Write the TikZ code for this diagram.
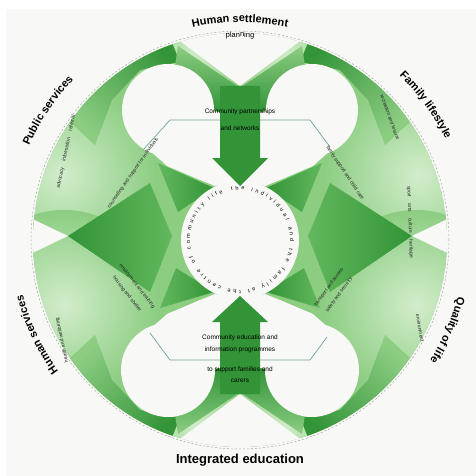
\documentclass[tikz,border=0pt]{standalone}
\usepackage{fontspec}
\setmainfont{Liberation Sans}
\usetikzlibrary{decorations.text}
\definecolor{bgc}{RGB}{248,248,246}
\definecolor{gD}{RGB}{50,148,55}
\definecolor{gM}{RGB}{98,184,92}
\definecolor{gB}{RGB}{140,205,130}
\definecolor{gL}{RGB}{210,237,203}
\definecolor{hexc}{RGB}{110,165,155}
\begin{document}
\begin{tikzpicture}[x=1pt,y=1pt,
  bt/.style={font=\fontsize{5}{5.8}\selectfont, align=center, inner sep=0pt, text=black!85},
  mt/.style={font=\fontsize{6.5}{7}\selectfont, inner sep=0pt, text=black},
  hexline/.style={draw=hexc, line width=0.7pt},
  arrowfill/.style={fill=gD},
  cut/.style={fill=bgc}
]
\fill[bgc] (0,0) rectangle (476,-476);
\fill[white] (0,0) rectangle (476,-9);
\fill[white] (0,0) rectangle (6,-476);
\useasboundingbox (0,0) rectangle (476,-476);

\begin{scope}
 \clip (240,-240) circle (207);
 \fill[gB] (240,-240) circle (207);
 % pale regions
 \foreach \a/\b/\r in {62/-175/95, 64/-305/95, 418/-175/95, 416/-305/95, 192/-58/60, 288/-58/60, 192/-422/60, 288/-422/60}
   \shade[inner color=gL, outer color=gB] (\a,\b) circle (\r);
 % dark corner arrowheads
 \shade[top color=gD, bottom color=gB, shading angle=-45] (70,-122) -- (137,-34) -- (170,-38) -- (180,-62) -- (140,-70) -- (112,-100) -- (95,-145) -- cycle;
 \shade[top color=gD, bottom color=gB, shading angle=45] (410,-122) -- (343,-34) -- (310,-38) -- (300,-62) -- (340,-70) -- (368,-100) -- (385,-145) -- cycle;
 \shade[top color=gD, bottom color=gB, shading angle=225] (70,-358) -- (137,-446) -- (170,-442) -- (180,-418) -- (140,-410) -- (112,-380) -- (95,-335) -- cycle;
 \shade[top color=gD, bottom color=gB, shading angle=135] (410,-358) -- (343,-446) -- (310,-442) -- (300,-418) -- (340,-410) -- (368,-380) -- (385,-335) -- cycle;
 % top V and bottom wedge
 \shade[top color=gB, bottom color=gD] (178,-46) -- (240,-88) -- (302,-46) -- (306,-72) -- (262,-112) -- (218,-112) -- (174,-72) -- cycle;
 \shade[top color=gD, bottom color=gB] (178,-434) -- (240,-392) -- (302,-434) -- (306,-408) -- (262,-368) -- (218,-368) -- (174,-408) -- cycle;
 % side kites
 \shade[left color=gD, right color=gM] (68,-236) -- (150,-183) -- (172,-236) -- (150,-292) -- cycle;
 \shade[left color=gM, right color=gD] (412,-236) -- (330,-183) -- (308,-236) -- (330,-292) -- cycle;
 % inner arrowheads pointing to centre
 \shade[left color=gM, right color=gD] (158,-163) -- (214,-188) -- (178,-212) -- cycle;
 \shade[left color=gM, right color=gD] (176,-268) -- (214,-292) -- (160,-308) -- cycle;
 \shade[left color=gD, right color=gM] (322,-163) -- (266,-188) -- (302,-212) -- cycle;
 \shade[left color=gD, right color=gM] (304,-268) -- (266,-292) -- (320,-308) -- cycle;
 % white cut-outs
 \fill[cut] (168,-110) circle (46);
 \fill[cut] (312,-110) circle (46);
 \fill[cut] (168,-370) circle (47);
 \fill[cut] (312,-370) circle (47);
 \fill[cut] (125,-120) -- (200,-112) -- (280,-112) -- (355,-120) -- (340,-142) -- (313,-166) -- (280,-180) -- (265,-186) -- (240,-181) -- (215,-186) -- (200,-180) -- (167,-166) -- (140,-142) -- cycle;
 \fill[cut] (125,-360) -- (200,-368) -- (280,-368) -- (355,-360) -- (340,-338) -- (313,-314) -- (280,-300) -- (265,-294) -- (240,-299) -- (215,-294) -- (200,-300) -- (167,-314) -- (140,-338) -- cycle;
 \fill[cut] (240,-240) circle (59);
 \fill[cut] (125,0) -- (240,-86) -- (355,0) -- cycle;
 \fill[cut] (125,-480) -- (240,-394) -- (355,-480) -- cycle;
 \fill[cut] (20,-213) -- (68,-236) -- (20,-259) -- cycle;
 \fill[cut] (460,-213) -- (412,-236) -- (460,-259) -- cycle;
\end{scope}

% hexagon (visible parts)
\draw[hexline] (143,-150) -- (170,-120) -- (310,-120) -- (330,-147);
\draw[hexline] (150,-333) -- (170,-360) -- (310,-360) -- (327,-337);

% central arrows
\fill[arrowfill] (220,-86) -- (260,-86) -- (260,-158) -- (268,-158) -- (240,-186) -- (212,-158) -- (220,-158) -- cycle;
\fill[arrowfill] (220,-394) -- (260,-394) -- (260,-322) -- (268,-322) -- (240,-296) -- (212,-322) -- (220,-322) -- cycle;

% dashed outer ring
\draw[gray!70, line width=0.5pt, dash pattern=on 2pt off 2pt] (240,-240) circle (209);

% centre ring text
\path[decorate, decoration={text along path, text={|\fontsize{5.5}{5.5}\selectfont|the individual and the family at the centre of community life}, text align={fit to path}}]
  ([shift={(240,-240)}]100:50) arc[start angle=100, end angle=-250, radius=50];

% outer labels
\path[decorate, decoration={text along path, text={|\fontsize{11}{11}\selectfont\bfseries|Human settlement}, text align=center}]
  ([shift={(240,-240)}]125:218) arc[start angle=125, end angle=55, radius=218];
\path[decorate, decoration={text along path, text={|\fontsize{7.5}{7.5}\selectfont|planning}, text align=center}]
  ([shift={(240,-240)}]110:203) arc[start angle=110, end angle=70, radius=203];
\path[decorate, decoration={text along path, text={|\fontsize{11}{11}\selectfont\bfseries|Public services}, text align=center}]
  ([shift={(240,-240)}]175:231) arc[start angle=175, end angle=117, radius=231];
\path[decorate, decoration={text along path, text={|\fontsize{11}{11}\selectfont\bfseries|Family lifestyle}, text align=center}]
  ([shift={(240,-240)}]65:229) arc[start angle=65, end angle=7, radius=229];
\path[decorate, decoration={text along path, text={|\fontsize{11}{11}\selectfont\bfseries|Human services}, text align=center}]
  ([shift={(240,-240)}]235:224) arc[start angle=235, end angle=175, radius=224];
\path[decorate, decoration={text along path, text={|\fontsize{11}{11}\selectfont\bfseries|Quality of life}, text align=center}]
  ([shift={(240,-240)}]8:225) arc[start angle=8, end angle=-55, radius=225];
\node[font=\fontsize{13}{13}\selectfont\bfseries, inner sep=0pt] (bottomlabel) at (240,-460) {Integrated education};

% central texts
\node[mt] (t1) at (240,-112) {Community partnerships};
\node[mt] (t2) at (240,-128) {and networks};
\node[mt] (b1) at (240,-338) {Community education and};
\node[mt] (b2) at (240,-350) {information programmes};
\node[mt] (b3) at (240,-370) {to support families and};
\node[mt] (b4) at (240,-381) {carers};

% band texts
\node[bt, rotate=78] (s1) at (66,-152) {advocacy \quad information \quad referral};
\node[bt, rotate=55] (s2) at (133,-173) {counselling and support for individuals};
\node[bt, rotate=-70] (s3) at (390,-117) {recreation and leisure};
\node[bt, rotate=-88] (s4) at (410,-222) {sport \quad arts \quad culture \quad heritage};
\node[bt, rotate=-56] (s5) at (345,-173) {family support and child care};
\node[bt, rotate=102] (s6) at (62,-340) {health and wellbeing};
\node[bt, rotate=-52] (s7) at (127,-294) {housing and shelter};
\node[bt, rotate=-52] (s7b) at (137,-286) {employment and training};
\node[bt, rotate=54] (s8) at (329,-287) {transport and access};
\node[bt, rotate=54] (s8b) at (339,-295) {safety and security};
\node[bt, rotate=-80] (s9) at (420,-328) {environment};
\end{tikzpicture}
\end{document}
